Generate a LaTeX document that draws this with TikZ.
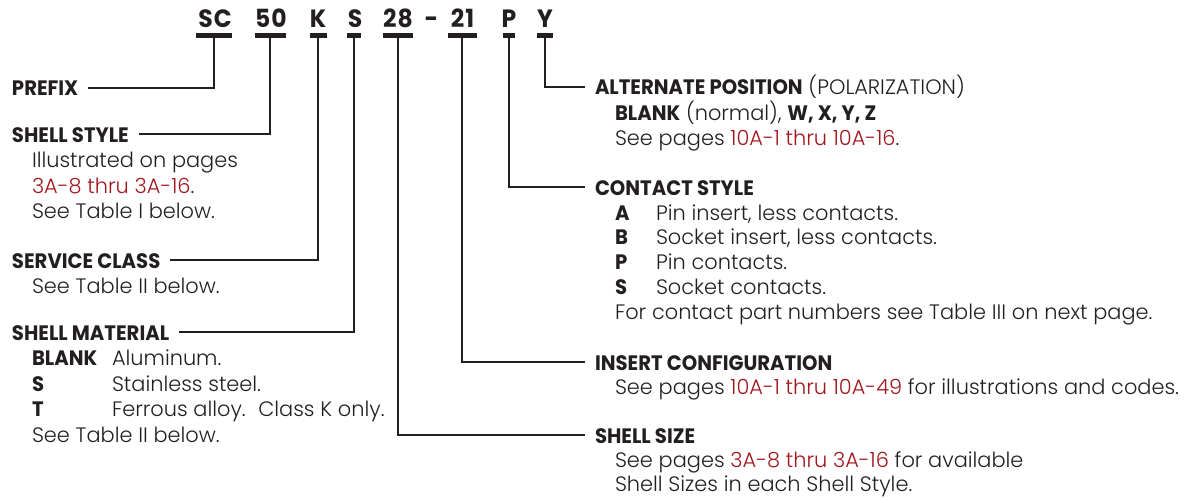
\documentclass[tikz,border=0pt]{standalone}
\usepackage{fontspec}
\setmainfont{Poppins}[UprightFont={* Light}, BoldFont={* Bold}, BoldFeatures={FakeStretch=0.94}]
\definecolor{ink}{HTML}{231F20}
\definecolor{pg}{HTML}{A3161E}
\newcommand{\rd}[1]{\textcolor{pg}{#1}}
\begin{document}
\begin{tikzpicture}[x=1pt,y=-1pt,
  every node/.style={inner sep=0pt, outer sep=0pt, text=ink},
  lbl/.style={anchor=base west, font=\fontsize{20.9}{21}\selectfont\bfseries},
  txt/.style={anchor=base west, font=\fontsize{20.9}{21}\selectfont},
  code/.style={anchor=base, font=\fontsize{25}{25}\selectfont\bfseries\addfontfeature{LetterSpace=4}},
  bar/.style={fill=ink, minimum height=5pt, anchor=north},
  conn/.style={draw=ink, line width=2.6pt, line join=miter}]
\useasboundingbox (0,0) rectangle (1190,500);

% code letters
\node[code] (tSC) at (215,28) {SC};
\node[code] (t50) at (271,28) {50};
\node[code] (tK)  at (318,28) {K};
\node[code] (tS)  at (355,28) {S};
\node[code] (t28) at (398,28) {28};
\node[code] (tD)  at (431.5,28) {-};
\node[code] (t21) at (462.5,28) {21};
\node[code] (tP)  at (509,28) {P};
\node[code] (tY)  at (545,28) {Y};
% bars
\node[bar, minimum width=36pt] (bSC) at (214,33) {};
\node[bar, minimum width=31pt] (b50) at (270,33) {};
\node[bar, minimum width=17pt] (bK)  at (318,33) {};
\node[bar, minimum width=14pt] (bS)  at (354,33) {};
\node[bar, minimum width=30pt] (b28) at (398,33) {};
\node[bar, minimum width=29pt] (b21) at (462,33) {};
\node[bar, minimum width=12pt] (bP)  at (509,33) {};
\node[bar, minimum width=16pt] (bY)  at (545,33) {};

% left labels
\node[lbl] (prefix) at (12,96) {PREFIX};
\node[lbl] (shellstyle) at (12,142) {SHELL STYLE};
\node[txt] (ss1) at (32,167.5) {Illustrated on pages};
\node[txt] (ss2) at (32,193) {\rd{3A-8 thru 3A-16}.};
\node[txt] (ss3) at (32,218.5) {See Table I below.};
\node[lbl] (service) at (12,268) {SERVICE CLASS};
\node[txt] (sc1) at (32,293.5) {See Table II below.};
\node[lbl] (material) at (12,340) {SHELL MATERIAL};
\node[txt] (m1a) at (32,365.5) {\textbf{BLANK}};
\node[txt] (m1b) at (112,365.5) {Aluminum.};
\node[txt] (m2a) at (32,391) {\textbf{S}};
\node[txt] (m2b) at (112,391) {Stainless steel.};
\node[txt] (m3a) at (32,416.5) {\textbf{T}};
\node[txt] (m3b) at (112,416.5) {Ferrous alloy.\hspace{0.6em}Class K only.};
\node[txt] (m4) at (32,442) {See Table II below.};

% right labels
\node[txt] (alt) at (595,95) {\textbf{ALTERNATE POSITION} (POLARIZATION)};
\node[txt] (a1) at (615,120.5) {\textbf{BLANK} (normal), \textbf{W, X, Y, Z}};
\node[txt] (a2) at (615,146) {See pages \rd{10A-1 thru 10A-16}.};
\node[lbl] (contact) at (595,195) {CONTACT STYLE};
\node[txt] (cAl) at (615,220) {\textbf{A}};
\node[txt] (cAt) at (656,220) {Pin insert, less contacts.};
\node[txt] (cBl) at (615,244.8) {\textbf{B}};
\node[txt] (cBt) at (656,244.8) {Socket insert, less contacts.};
\node[txt] (cPl) at (615,269.6) {\textbf{P}};
\node[txt] (cPt) at (656,269.6) {Pin contacts.};
\node[txt] (cSl) at (615,294.4) {\textbf{S}};
\node[txt] (cSt) at (656,294.4) {Socket contacts.};
\node[txt] (c5) at (615,319) {For contact part numbers see Table III on next page.};
\node[lbl] (insert) at (595,370) {INSERT CONFIGURATION};
\node[txt] (i1) at (615,394.5) {See pages \rd{10A-1 thru 10A-49} for illustrations and codes.};
\node[lbl] (size) at (595,443) {SHELL SIZE};
\node[txt] (z1) at (615,467.5) {See pages \rd{3A-8 thru 3A-16} for available};
\node[txt] (z2) at (615,491.5) {Shell Sizes in each Shell Style.};

% connector end points
\coordinate (ePrefix) at ([shift={(10pt,8pt)}]prefix.base east);
\coordinate (eStyle) at ([shift={(10pt,8pt)}]shellstyle.base east);
\coordinate (eService) at ([shift={(10pt,8pt)}]service.base east);
\coordinate (eMaterial) at ([shift={(10pt,8pt)}]material.base east);
\coordinate (eAlt) at ([shift={(-10pt,8pt)}]alt.base west);
\coordinate (eContact) at ([shift={(-10pt,8pt)}]contact.base west);
\coordinate (eInsert) at ([shift={(-10pt,8pt)}]insert.base west);
\coordinate (eSize) at ([shift={(-10pt,8pt)}]size.base west);

\draw[conn] (bSC.south) |- (ePrefix);
\draw[conn] (b50.south) |- (eStyle);
\draw[conn] (bK.south) |- (eService);
\draw[conn] (bS.south) |- (eMaterial);
\draw[conn] (b28.south) |- (eSize);
\draw[conn] (b21.south) |- (eInsert);
\draw[conn] (bP.south) |- (eContact);
\draw[conn] (bY.south) |- (eAlt);
\end{tikzpicture}
\end{document}
